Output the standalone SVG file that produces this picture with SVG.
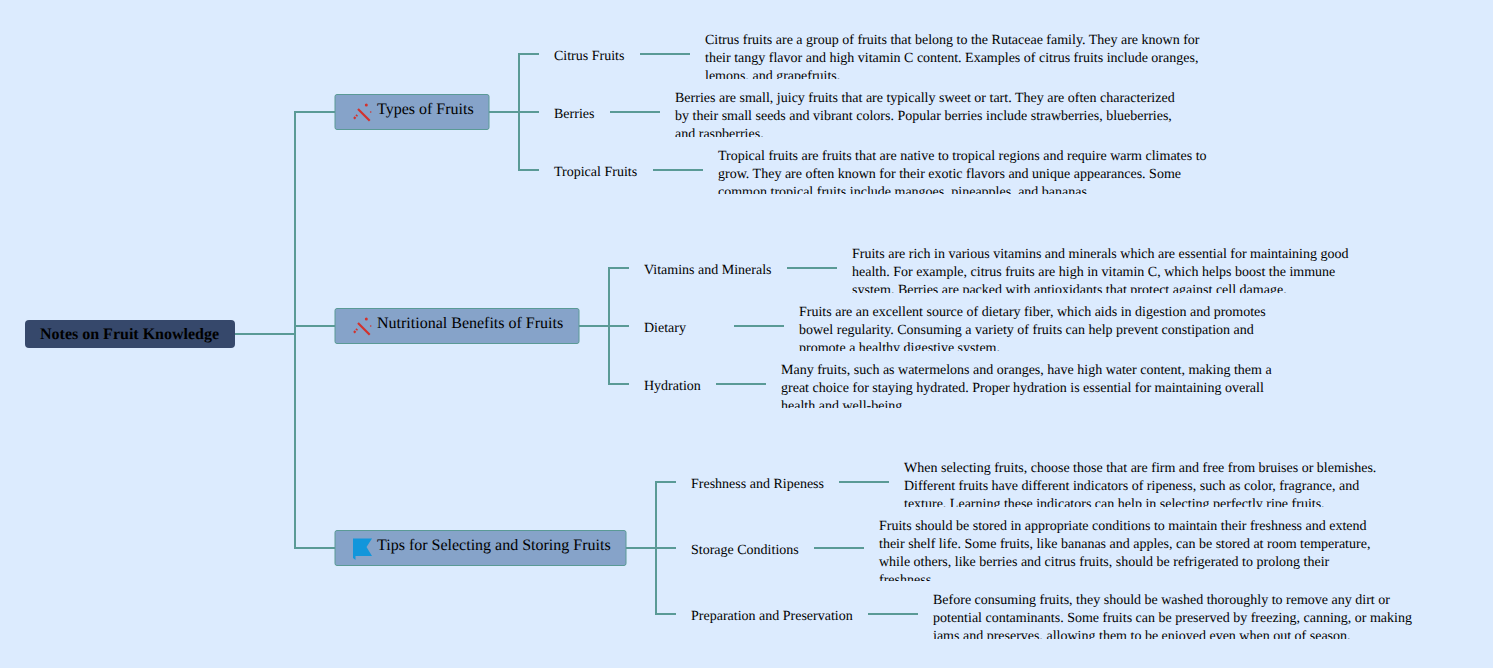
<svg xmlns="http://www.w3.org/2000/svg" width="1493" height="668" viewBox="0 0 1493 668">
<style>
text{font-family:"Liberation Serif","Times New Roman",serif;fill:#000;text-rendering:geometricPrecision;transform:translateY(-.4px)}
.c{fill:none;stroke:#5a9a96;stroke-width:2}
.b{fill:#86a3c9;stroke:#5a9a96;stroke-width:1}
.t{font-size:16px}
.s{font-size:14px}
.d{font-size:14px}
.w{fill:#d2322d}
</style>
<defs>
<g id="wand"><path d="M5 6L16.700 17.700" stroke="#d2322d" stroke-width="2.200" fill="none"/><path d="M1 15.700L4.200 12" stroke="#d2322d" stroke-width="2.200" stroke-dasharray="2.200 1.200" fill="none"/><circle class="w" cx="13.300" cy="1.900" r="1.500"/><circle class="w" cx="17.700" cy="9" r=".8"/></g>
<clipPath id="c1"><rect x="700" y="28" width="520" height="51"/></clipPath>
<clipPath id="c2"><rect x="670" y="86" width="520" height="51"/></clipPath>
<clipPath id="c3"><rect x="713" y="144" width="520" height="50"/></clipPath>
<clipPath id="c4"><rect x="847" y="242" width="520" height="51"/></clipPath>
<clipPath id="c5"><rect x="794" y="300" width="520" height="51"/></clipPath>
<clipPath id="c6"><rect x="776" y="358" width="520" height="50"/></clipPath>
<clipPath id="c7"><rect x="899" y="456" width="520" height="51"/></clipPath>
<clipPath id="c8"><rect x="874" y="514" width="520" height="67"/></clipPath>
<clipPath id="c9"><rect x="928" y="588" width="520" height="51"/></clipPath>
</defs>
<rect width="1493" height="668" fill="#dcebfe"/>
<g id="connectors">
<path class="c" d="M235 334H295M335 112H295V548H335M295 326H335"/>
<path class="c" d="M489 112H519M539 54H519V170H539M519 112H539M640 54H690M610 112H660M653 170H703"/>
<path class="c" d="M579 326H609M629 268H609V384H629M609 326H629M787 268H837M734 326H784M716 384H766"/>
<path class="c" d="M626 548H656M676 482H656V614H676M656 548H676M839 482H889M814 548H864M868 614H918"/>
</g>
<g id="root"><rect x="25" y="320" width="210" height="28" rx="4" fill="#36486b"/><text x="40" y="339" class="t" font-weight="700">Notes on Fruit Knowledge</text></g>
<g id="n1"><rect class="b" x="335" y="94.500" width="154" height="35" rx="2"/><use href="#wand" x="353" y="103"/><text x="377" y="114" class="t">Types of Fruits</text></g>
<g id="n2"><rect class="b" x="335" y="308.500" width="244" height="35" rx="2"/><use href="#wand" x="353" y="317"/><text x="377" y="328" class="t">Nutritional Benefits of Fruits</text></g>
<g id="n3"><rect class="b" x="335" y="530.500" width="291" height="35" rx="2"/><path d="M353 538.500H372L366.500 547L372 556H355.500V560L353 558Z" fill="#1296db"/><text x="377" y="550" class="t">Tips for Selecting and Storing Fruits</text></g>
<g id="l1"><text x="554" y="60" class="s">Citrus Fruits</text></g>
<g id="l2"><text x="554" y="118" class="s">Berries</text></g>
<g id="l3"><text x="554" y="176" class="s">Tropical Fruits</text></g>
<g id="l4"><text x="644" y="274" class="s">Vitamins and Minerals</text></g>
<g id="l5"><text x="644" y="332" class="s">Dietary</text></g>
<g id="l6"><text x="644" y="390" class="s">Hydration</text></g>
<g id="l7"><text x="691" y="488" class="s">Freshness and Ripeness</text></g>
<g id="l8"><text x="691" y="554" class="s">Storage Conditions</text></g>
<g id="l9"><text x="691" y="620" class="s">Preparation and Preservation</text></g>
<g id="d1" clip-path="url(#c1)"><text class="d" x="705" y="44">Citrus fruits are a group of fruits that belong to the Rutaceae family. They are known for</text><text class="d" x="705" y="62">their tangy flavor and high vitamin C content. Examples of citrus fruits include oranges,</text><text class="d" x="705" y="80">lemons, and grapefruits.</text></g>
<g id="d2" clip-path="url(#c2)"><text class="d" x="675" y="102">Berries are small, juicy fruits that are typically sweet or tart. They are often characterized</text><text class="d" x="675" y="120">by their small seeds and vibrant colors. Popular berries include strawberries, blueberries,</text><text class="d" x="675" y="138">and raspberries.</text></g>
<g id="d3" clip-path="url(#c3)"><text class="d" x="718" y="160">Tropical fruits are fruits that are native to tropical regions and require warm climates to</text><text class="d" x="718" y="178">grow. They are often known for their exotic flavors and unique appearances. Some</text><text class="d" x="718" y="196">common tropical fruits include mangoes, pineapples, and bananas.</text></g>
<g id="d4" clip-path="url(#c4)"><text class="d" x="852" y="258">Fruits are rich in various vitamins and minerals which are essential for maintaining good</text><text class="d" x="852" y="276">health. For example, citrus fruits are high in vitamin C, which helps boost the immune</text><text class="d" x="852" y="294">system. Berries are packed with antioxidants that protect against cell damage.</text></g>
<g id="d5" clip-path="url(#c5)"><text class="d" x="799" y="316">Fruits are an excellent source of dietary fiber, which aids in digestion and promotes</text><text class="d" x="799" y="334">bowel regularity. Consuming a variety of fruits can help prevent constipation and</text><text class="d" x="799" y="352">promote a healthy digestive system.</text></g>
<g id="d6" clip-path="url(#c6)"><text class="d" x="781" y="374">Many fruits, such as watermelons and oranges, have high water content, making them a</text><text class="d" x="781" y="392">great choice for staying hydrated. Proper hydration is essential for maintaining overall</text><text class="d" x="781" y="410">health and well-being.</text></g>
<g id="d7" clip-path="url(#c7)"><text class="d" x="904" y="472">When selecting fruits, choose those that are firm and free from bruises or blemishes.</text><text class="d" x="904" y="490">Different fruits have different indicators of ripeness, such as color, fragrance, and</text><text class="d" x="904" y="508">texture. Learning these indicators can help in selecting perfectly ripe fruits.</text></g>
<g id="d8" clip-path="url(#c8)"><text class="d" x="879" y="530">Fruits should be stored in appropriate conditions to maintain their freshness and extend</text><text class="d" x="879" y="548">their shelf life. Some fruits, like bananas and apples, can be stored at room temperature,</text><text class="d" x="879" y="566">while others, like berries and citrus fruits, should be refrigerated to prolong their</text><text class="d" x="879" y="584">freshness.</text></g>
<g id="d9" clip-path="url(#c9)"><text class="d" x="933" y="604">Before consuming fruits, they should be washed thoroughly to remove any dirt or</text><text class="d" x="933" y="622">potential contaminants. Some fruits can be preserved by freezing, canning, or making</text><text class="d" x="933" y="640">jams and preserves, allowing them to be enjoyed even when out of season.</text></g>
</svg>
